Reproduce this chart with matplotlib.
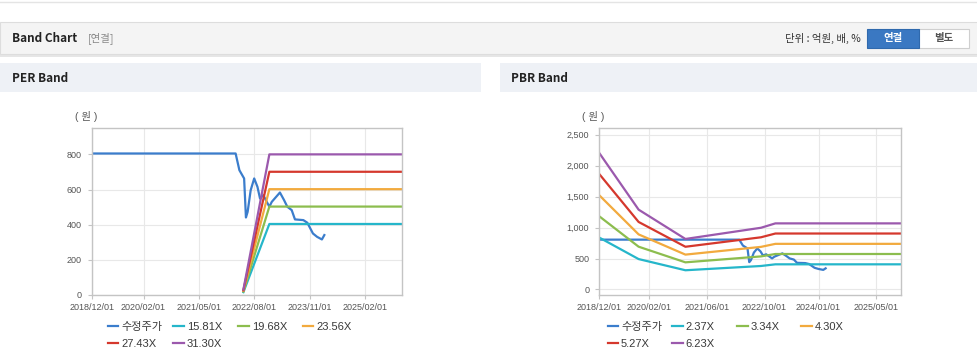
import matplotlib
matplotlib.use("Agg")
import matplotlib.pyplot as plt
from matplotlib.patches import Rectangle
from matplotlib.ticker import FuncFormatter
import numpy as np

plt.rcParams['font.family'] = ['Liberation Sans', 'Noto Sans CJK KR']

# 수정주가 (same series on both charts)
price_dates = ['2018-12-01', '2022-03-01', '2022-04-01', '2022-05-10', '2022-05-25', '2022-06-08',
               '2022-07-03', '2022-08-01', '2022-08-28', '2022-09-18', '2022-10-15', '2022-12-04',
               '2022-12-24', '2023-03-01', '2023-04-04', '2023-05-01', '2023-06-06', '2023-07-03',
               '2023-09-10', '2023-10-13', '2023-11-28', '2024-01-01', '2024-02-10', '2024-03-01']
price = [805, 805, 710, 663, 441, 473, 596, 663, 615, 549, 568, 502,
         530, 583, 540, 502, 483, 430, 426, 411, 350, 331, 316, 341]

# PER band
per_dates = ['2022-05-04', '2022-12-04', '2025-12-01']
per_labels = ['15.81X', '19.68X', '23.56X', '27.43X', '31.30X']
per_bands = [
    [16, 404, 404],
    [20, 503, 503],
    [24, 602, 602],
    [27, 701, 701],
    [31, 800, 800],
]
per_ticks = ['2018-12-01', '2020-02-01', '2021-05-01', '2022-08-01', '2023-11-01', '2025-02-01']

# PBR band
pbr_dates = ['2018-12-01', '2019-11-01', '2020-12-01', '2022-09-01', '2023-01-01', '2025-12-01']
pbr_labels = ['2.37X', '3.34X', '4.30X', '5.27X', '6.23X']
pbr_bands = [
    [841, 491, 310, 379, 406, 406],
    [1186, 691, 438, 534, 573, 573],
    [1527, 890, 563, 688, 737, 737],
    [1871, 1091, 690, 843, 904, 904],
    [2212, 1290, 816, 997, 1068, 1068],
]
pbr_ticks = ['2018-12-01', '2020-02-01', '2021-06-01', '2022-10-01', '2024-01-01', '2025-05-01']

price_color = '#3b7dcc'
band_colors = ['#25b6ca', '#8cbd4e', '#f2aa3e', '#d5382d', '#9b59ad']

W, H = 978, 361
fig = plt.figure(figsize=(W / 100, H / 100), dpi=100)

# page background pieces
bg = fig.add_axes([0, 0, 1, 1], zorder=-1)
bg.set_xlim(0, W)
bg.set_ylim(H, 0)
bg.axis('off')
bg.plot([0, W], [2, 2], color='#e4e4e4', lw=1)
bg.add_patch(Rectangle((0, 54), W, 2.5, color='#e6e6e6', lw=0))
bg.add_patch(Rectangle((0, 22), W, 32, facecolor='#f4f4f4', edgecolor='#dddddd', lw=0.8))
bg.text(12, 38.5, 'Band Chart', fontsize=8.5, fontweight='bold', family=['Noto Sans CJK KR'],
        va='center', color='#222222')
bg.text(88, 38.5, '[연결]', fontsize=7.5, family=['Noto Sans CJK KR'], va='center', color='#888888')
bg.text(861, 38.5, '단위 : 억원, 배, %', fontsize=7.5, family=['Noto Sans CJK KR'],
        va='center', ha='right', color='#333333')
bg.add_patch(Rectangle((918, 29), 51, 19, facecolor='white', edgecolor='#cfcfcf', lw=0.8))
bg.add_patch(Rectangle((867, 29), 52, 19, facecolor='#3a78c2', edgecolor='#2f69ad', lw=0.8))
bg.text(893, 38.5, '연결', fontsize=7.5, fontweight='bold', family=['Noto Sans CJK KR'],
        va='center', ha='center', color='white')
bg.text(943.5, 38.5, '별도', fontsize=7.5, fontweight='bold', family=['Noto Sans CJK KR'],
        va='center', ha='center', color='#555555')
bg.add_patch(Rectangle((0, 63), 481, 29, facecolor='#eef1f6', lw=0))
bg.add_patch(Rectangle((500, 63), 478, 29, facecolor='#eef1f6', lw=0))
bg.text(12, 78, 'PER Band', fontsize=8.5, fontweight='bold', family=['Noto Sans CJK KR'],
        va='center', color='#222222')
bg.text(511, 78, 'PBR Band', fontsize=8.5, fontweight='bold', family=['Noto Sans CJK KR'],
        va='center', color='#222222')
bg.text(86, 117, '( 원 )', fontsize=7.5, va='center', ha='center', color='#555555')
bg.text(593, 117, '( 원 )', fontsize=7.5, va='center', ha='center', color='#555555')


def setup_axes(ax, ticks, ylim, yticks):
    ax.set_xlim(np.datetime64('2018-12-01'), np.datetime64('2025-12-01'))
    ax.set_ylim(*ylim)
    ax.set_yticks(yticks)
    ax.yaxis.set_major_formatter(FuncFormatter(lambda v, p: f'{int(v):,}'))
    tick_pos = [np.datetime64(t) for t in ticks]
    ax.set_xticks(tick_pos)
    ax.set_xticklabels([t.replace('-', '/') for t in ticks])
    ax.grid(True, color='#e8e8e8', lw=0.8)
    ax.set_axisbelow(True)
    for s in ax.spines.values():
        s.set_color('#c4c4c4')
        s.set_linewidth(1)
    ax.tick_params(axis='both', colors='#c4c4c4', labelcolor='#555555', labelsize=6.5,
                   length=3, width=0.8)
    ax.tick_params(axis='x', pad=3)
    ax.tick_params(axis='y', pad=4)


def column_legends(ax, handles, labels, xs, y):
    # one small legend per column so the columns sit at fixed places
    for c, x in enumerate(xs):
        idx = [i for i in (c, c + 4) if i < len(handles)]
        leg = ax.legend([handles[i] for i in idx], [labels[i] for i in idx], loc='upper left',
                        bbox_to_anchor=(x / W, 1 - y / H), bbox_transform=fig.transFigure,
                        frameon=False, handlelength=0.95, handletextpad=0.25, borderpad=0,
                        borderaxespad=0, labelspacing=0.6, fontsize=8)
        for t in leg.get_texts():
            t.set_color('#3a3a3a')
        ax.add_artist(leg)
    ax.legend_ = None


def draw_chart(ax, dates, bands, labels, ticks, ylim, yticks, leg_x):
    pd_ = np.array(price_dates, dtype='datetime64[D]')
    h = [ax.plot(pd_, price, color=price_color, lw=1.6)[0]]
    bd = np.array(dates, dtype='datetime64[D]')
    for vals, col in zip(bands, band_colors):
        h.append(ax.plot(bd, vals, color=col, lw=1.6)[0])
    setup_axes(ax, ticks, ylim, yticks)
    column_legends(ax, h, ['수정주가'] + labels, leg_x, 322)


ax1 = fig.add_axes([91.7 / W, 1 - 295 / H, 310.3 / W, 167 / H])
draw_chart(ax1, per_dates, per_bands, per_labels, per_ticks, (0, 950), range(0, 801, 200),
           [107.7, 173.3, 238.3, 302.7])

ax2 = fig.add_axes([599 / W, 1 - 295 / H, 302.3 / W, 167 / H])
draw_chart(ax2, pbr_dates, pbr_bands, pbr_labels, pbr_ticks, (-90, 2610), range(0, 2501, 500),
           [607.7, 672, 737, 801])

fig.savefig('out.png', dpi=100)
